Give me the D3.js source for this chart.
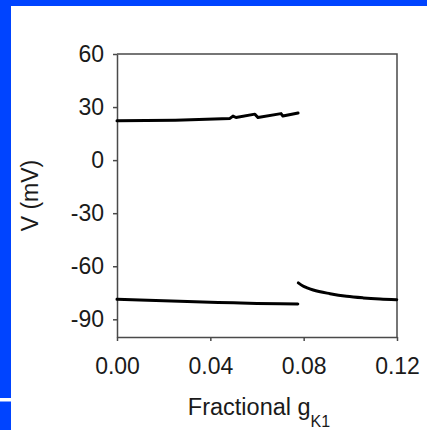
<!DOCTYPE html>
<html>
<head>
<meta charset="utf-8">
<script src="https://cdn.jsdelivr.net/npm/d3@7"></script>
<style>
  html, body { margin: 0; padding: 0; background: #fff; }
  svg { display: block; font-family: "Liberation Sans", Arial, sans-serif; }
</style>
</head>
<body>
<svg id="chart" width="427" height="430"></svg>
<script>
// Depolarized branch (upper), with small sawtooth steps near the end
const upperG = [0, 0.025, 0.0484, 0.0497, 0.051, 0.0591, 0.0604, 0.0703, 0.0711, 0.0776];
const upperV = [22.2, 22.6, 23.6, 24.9, 24.1, 26.0, 24.1, 26.3, 24.9, 26.6];

// Resting branch (lower), up to the transition
const lowerG = [0, 0.02, 0.04, 0.05, 0.06, 0.07, 0.0775];
const lowerV = [-78.7, -79.5, -80.3, -80.7, -81.0, -81.2, -81.3];

// Resting branch after the transition
const tailG = [0.0777, 0.0795, 0.0815, 0.0841, 0.0913, 0.0984, 0.1056, 0.1127, 0.1199];
const tailV = [-69.4, -71.0, -72.2, -73.4, -75.5, -77.0, -77.9, -78.5, -78.9];

const xTicks = [0, 0.04, 0.08, 0.12];
const xTickLabels = ["0.00", "0.04", "0.08", "0.12"];
const yTicks = [60, 30, 0, -30, -60, -90];
const yTickLabels = ["60", "30", "0", "-30", "-60", "-90"];

const svg = d3.select("#chart");

// Blue slide frame
const blue = "#0044ff";
svg.append("rect").attr("x", 0).attr("y", 0).attr("width", 427).attr("height", 6).attr("fill", blue);
svg.append("rect").attr("x", 0).attr("y", 0).attr("width", 11).attr("height", 398).attr("fill", blue);
svg.append("rect").attr("x", 0).attr("y", 401.5).attr("width", 11).attr("height", 29).attr("fill", blue);

const plotLeft = 117, plotRight = 397, plotTop = 54, plotBottom = 337;
const x = d3.scaleLinear().domain([0, 0.12]).range([plotLeft, plotRight]);
const y = d3.scaleLinear().domain([-100, 60]).range([plotBottom, plotTop]);

const frameColor = "#4a4a4a";
const fontSize = 23;

// Axes
const yAxis = svg.append("g")
  .attr("transform", `translate(${plotLeft},0)`)
  .call(d3.axisLeft(y).tickValues(yTicks).tickFormat((d, i) => yTickLabels[i])
    .tickSize(4).tickPadding(9).tickSizeOuter(0));
const xAxis = svg.append("g")
  .attr("transform", `translate(0,${plotBottom})`)
  .call(d3.axisBottom(x).tickValues(xTicks).tickFormat((d, i) => xTickLabels[i])
    .tickSize(4).tickPadding(17).tickSizeOuter(0));

[yAxis, xAxis].forEach(g => {
  g.select(".domain").attr("stroke", frameColor).attr("stroke-width", 1.5);
  g.selectAll(".tick line").attr("stroke", frameColor).attr("stroke-width", 1.5);
  g.selectAll(".tick text").attr("fill", "#1a1a1a").style("font-size", fontSize + "px")
    .style("font-family", "'Liberation Sans', Arial, sans-serif");
});

// Top and right frame lines
svg.append("path")
  .attr("d", `M${plotLeft},${plotTop}H${plotRight}V${plotBottom}`)
  .attr("fill", "none").attr("stroke", frameColor).attr("stroke-width", 1.5);

// Data curves
const sharp = d3.line().x(d => x(d[0])).y(d => y(d[1]));
const smooth = d3.line().curve(d3.curveMonotoneX).x(d => x(d[0])).y(d => y(d[1]));
[[upperG, upperV, sharp], [lowerG, lowerV, smooth], [tailG, tailV, smooth]].forEach(([gs, vs, gen]) => {
  svg.append("path")
    .datum(gs.map((g, i) => [g, vs[i]]))
    .attr("d", gen)
    .attr("fill", "none")
    .attr("stroke", "#000")
    .attr("stroke-width", 3)
    .attr("stroke-linejoin", "round")
    .attr("stroke-linecap", "round");
});

// Axis titles
svg.append("text")
  .attr("transform", `translate(38,${(plotTop + plotBottom) / 2}) rotate(-90)`)
  .attr("text-anchor", "middle")
  .attr("fill", "#1a1a1a")
  .style("font-size", fontSize + "px")
  .text("V (mV)");

const xt = svg.append("text")
  .attr("x", 259).attr("y", 415)
  .attr("text-anchor", "middle")
  .attr("fill", "#1a1a1a")
  .style("font-size", "23.5px");
xt.append("tspan").text("Fractional g");
xt.append("tspan").attr("dy", 12).style("font-size", "16px").text("K1");
</script>
</body>
</html>
